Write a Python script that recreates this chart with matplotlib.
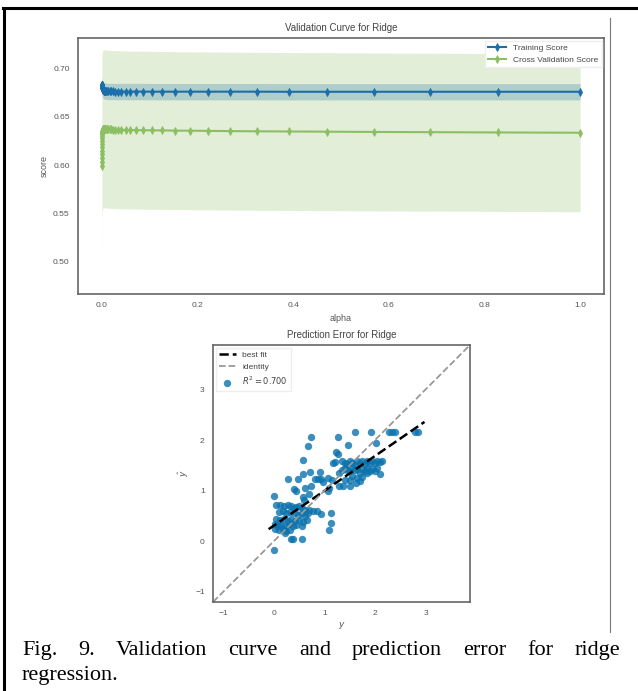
import matplotlib.pyplot as plt
from matplotlib.lines import Line2D
import numpy as np

plt.rcParams['font.family'] = ['Liberation Sans', 'DejaVu Sans']

# --- validation curve data (alpha grid, mean / std of scores) ---
alphas = [0.0001, 0.000121, 0.000146, 0.000176, 0.000212, 0.000256, 0.000309, 0.000373,
          0.00045, 0.000543, 0.000655, 0.000791, 0.000954, 0.001151, 0.001389, 0.001677,
          0.002024, 0.002442, 0.002947, 0.003556, 0.004292, 0.005179, 0.006251, 0.007543,
          0.009103, 0.010985, 0.013257, 0.015999, 0.019307, 0.0233, 0.028118, 0.033932,
          0.040949, 0.049417, 0.059636, 0.071969, 0.086851, 0.104811, 0.126486, 0.152642,
          0.184207, 0.2223, 0.26827, 0.323746, 0.390694, 0.471487, 0.568987, 0.686649,
          0.828643, 1.0]
train_mean = [0.6835, 0.6834, 0.6833, 0.6832, 0.6830, 0.6828, 0.6826, 0.6823, 0.6820, 0.6816,
              0.6812, 0.6808, 0.6803, 0.6798, 0.6793, 0.6789, 0.6785, 0.6781, 0.6778, 0.6775,
              0.6773, 0.6771, 0.6769, 0.6768, 0.6767, 0.6766, 0.6765, 0.6765, 0.6765, 0.6765,
              0.6764, 0.6764, 0.6764, 0.6764, 0.6764, 0.6764, 0.6764, 0.6763, 0.6763, 0.6763,
              0.6763, 0.6763, 0.6763, 0.6763, 0.6762, 0.6762, 0.6762, 0.6762, 0.6762, 0.6762]
train_std = [0.0092, 0.0092, 0.0091, 0.0091, 0.0091, 0.0090, 0.0090, 0.0090, 0.0089, 0.0089,
             0.0089, 0.0088, 0.0088, 0.0088, 0.0087, 0.0087, 0.0087, 0.0086, 0.0086, 0.0086,
             0.0086, 0.0085, 0.0085, 0.0085, 0.0085, 0.0085, 0.0085, 0.0085, 0.0085, 0.0085,
             0.0085, 0.0085, 0.0085, 0.0085, 0.0085, 0.0085, 0.0085, 0.0085, 0.0085, 0.0085,
             0.0085, 0.0085, 0.0085, 0.0085, 0.0085, 0.0085, 0.0085, 0.0085, 0.0085, 0.0085]
cv_mean = [0.599, 0.603, 0.607, 0.611, 0.615, 0.619, 0.622, 0.625, 0.628, 0.630,
           0.632, 0.633, 0.634, 0.635, 0.636, 0.6365, 0.637, 0.6372, 0.6374, 0.6375,
           0.6376, 0.6376, 0.6376, 0.6375, 0.6374, 0.6373, 0.6372, 0.6371, 0.6370, 0.6369,
           0.6368, 0.6367, 0.6366, 0.6365, 0.6364, 0.6363, 0.6362, 0.6361, 0.6360, 0.6358,
           0.6357, 0.6355, 0.6353, 0.6351, 0.6349, 0.6347, 0.6344, 0.6342, 0.6339, 0.6336]
cv_std = [0.121, 0.115, 0.110, 0.105, 0.100, 0.096, 0.092, 0.089, 0.087, 0.085,
          0.084, 0.083, 0.0828, 0.0826, 0.0824, 0.0823, 0.0822, 0.0822, 0.0821, 0.0821,
          0.0821, 0.0821, 0.0821, 0.0821, 0.0821, 0.0821, 0.0821, 0.0821, 0.0821, 0.0821,
          0.0821, 0.0821, 0.0821, 0.0821, 0.0821, 0.0821, 0.0821, 0.0821, 0.0821, 0.0821,
          0.0821, 0.0821, 0.0821, 0.0821, 0.0821, 0.0821, 0.0821, 0.0821, 0.0821, 0.0821]

# --- prediction error data (true y, predicted y) ---
y_true = [0.73, 0.68, 1.27, 1.61, 1.92, 2.27, 2.33, 2.40, 2.80, 2.85, 2.02, 1.46, 0.58,
          1.24, 1.27, 1.17, 1.21, 1.35, 1.40, 1.45, 1.50, 1.55, 1.60, 1.65, 1.70, 1.75,
          1.80, 1.85, 1.90, 1.95, 2.00, 2.05, 2.10, 2.15, 1.40, 1.45, 1.50, 1.55, 1.60,
          1.65, 1.70, 1.75, 1.80, 1.85, 1.90, 1.95, 2.00, 2.05, 2.10, 1.35, 1.30, 1.55,
          1.65, 1.75, 1.85, 1.40, 1.50, 1.70, 1.30, 1.37, 1.50, 1.63, 1.07, 1.10, 1.15,
          0.97, 1.07, 0.94, 0.87, 0.81, 0.91, 0.74, 0.71, 0.58, 0.48, 0.28, 0.41, 0.45,
          0.62, 0.58, 0.60, 0.00, 0.70,
          0.05, 0.12, 0.20, 0.28, 0.35, 0.40, 0.45, 0.50, 0.55, 0.62, 0.70, 0.78, 0.85,
          0.10, 0.18, 0.25, 0.33, 0.42, 0.48, 0.55, 0.62, 0.68, 0.94, 1.14, 0.05, 0.12,
          0.20, 0.28, 0.35, 0.42, 0.50, 0.58, 0.65, 0.02, 0.08, 0.15, 0.22, 0.30, 0.38,
          0.45, 0.55, 0.02, 0.10, 0.18, 0.25, 0.33, 1.14, 1.10, 0.22, 0.35, 0.39, 0.55, 0.00]
y_pred = [2.07, 1.88, 2.07, 2.17, 2.17, 2.17, 2.17, 2.17, 2.17, 2.17, 1.95, 1.91, 1.60,
          1.77, 1.72, 1.54, 1.57, 1.58, 1.55, 1.52, 1.58, 1.55, 1.50, 1.58, 1.55, 1.58,
          1.52, 1.58, 1.55, 1.58, 1.55, 1.58, 1.57, 1.58, 1.45, 1.40, 1.38, 1.45, 1.40,
          1.42, 1.35, 1.42, 1.38, 1.45, 1.38, 1.42, 1.38, 1.45, 1.33, 1.40, 1.35, 1.30,
          1.25, 1.28, 1.35, 1.22, 1.22, 1.20, 1.10, 1.10, 1.10, 1.15, 1.00, 1.05, 1.22,
          1.17, 1.25, 1.24, 1.24, 1.24, 1.36, 1.10, 1.36, 1.33, 1.24, 1.24, 1.03, 1.00,
          1.05, 0.87, 0.81, 0.89, 0.93,
          0.72, 0.72, 0.70, 0.72, 0.70, 0.66, 0.68, 0.70, 0.66, 0.62, 0.62, 0.60, 0.60,
          0.58, 0.60, 0.55, 0.58, 0.55, 0.52, 0.55, 0.50, 0.55, 0.54, 0.56, 0.45, 0.42,
          0.45, 0.40, 0.45, 0.40, 0.42, 0.38, 0.42, 0.35, 0.30, 0.33, 0.30, 0.35, 0.30,
          0.33, 0.30, 0.25, 0.22, 0.25, 0.20, 0.22, 0.36, 0.22, 0.16, 0.05, 0.05, 0.05, -0.17]
fit_x = [-0.10, 2.98]
fit_y = [0.24, 2.36]
lims = [-1.2, 3.88]

blue = '#1a6faa'
green = '#8cbf63'
tick_col = '#555555'
spine_col = '#666666'


def style(ax):
    for s in ax.spines.values():
        s.set_color(spine_col)
        s.set_linewidth(1.2)
    ax.tick_params(length=0, pad=6, labelsize=6, labelcolor=tick_col)


fig = plt.figure(figsize=(6.38, 6.91), dpi=100)

# top: validation curve
ax1 = fig.add_axes([0.1223, 0.5745, 0.8245, 0.3705])
cv_lo = np.array(cv_mean) - np.array(cv_std)
cv_hi = np.array(cv_mean) + np.array(cv_std)
tr_lo = np.array(train_mean) - np.array(train_std)
tr_hi = np.array(train_mean) + np.array(train_std)
ax1.fill_between(alphas, cv_lo, cv_hi, color=green, alpha=0.25, lw=0)
ax1.fill_between(alphas, tr_lo, tr_hi, color=blue, alpha=0.25, lw=0)
ax1.plot(alphas, train_mean, marker='d', ms=3.6, mew=0.6, lw=1.5, color=blue, label='Training Score')
ax1.plot(alphas, cv_mean, marker='d', ms=3.6, mew=0.6, lw=1.5, color=green, label='Cross Validation Score')
ax1.set_title('Validation Curve for Ridge', fontsize=7, color='#444444', pad=5)
ax1.set_xlabel('alpha', fontsize=6.5, color=tick_col, labelpad=3)
ax1.set_ylabel('score', fontsize=6.5, color=tick_col, labelpad=3)
ax1.set_yticks([0.50, 0.55, 0.60, 0.65, 0.70])
style(ax1)
leg = ax1.legend(loc='upper right', fontsize=6, frameon=True, framealpha=1,
                 edgecolor='#eeeeee', fancybox=False, borderaxespad=0.3, handlelength=2.2)
for t in leg.get_texts():
    t.set_color('#444444')

# bottom: prediction error
ax2 = fig.add_axes([0.3339, 0.1288, 0.4028, 0.3719])
ax2.plot(fit_x, fit_y, ls='--', lw=1.8, color='black', label='best fit')
ax2.plot(lims, lims, ls='--', lw=1.3, color='#999999', label='identity')
ax2.scatter(y_true, y_pred, s=28, color='#0a72ad', alpha=0.8, lw=0, label='$R^2 = 0.700$')
ax2.set_xlim(lims)
ax2.set_ylim(lims)
ax2.set_xticks([-1, 0, 1, 2, 3])
ax2.set_yticks([-1, 0, 1, 2, 3])
ax2.set_title('Prediction Error for Ridge', fontsize=7, color='#444444', pad=5)
ax2.set_xlabel('$y$', fontsize=6.5, color=tick_col, labelpad=2)
ax2.set_ylabel(r'$\hat{y}$', fontsize=6.5, color=tick_col, labelpad=3)
style(ax2)
leg2 = ax2.legend(loc='upper left', fontsize=6, frameon=True, framealpha=1,
                  edgecolor='#eeeeee', fancybox=False, borderaxespad=0.3)
for t in leg2.get_texts():
    t.set_color('#444444')

# page frame of the screenshot
W, H = 638.0, 691.0
fig.add_artist(Line2D([3 / W, 1.0], [1 - 8 / H, 1 - 8 / H], color='black', lw=2.2))
fig.add_artist(Line2D([4 / W, 4 / W], [0.0, 1 - 8 / H], color='black', lw=2.2))
fig.add_artist(Line2D([610 / W, 610 / W], [1 - 632 / H, 1 - 18 / H], color='#777777', lw=0.8))

# caption, justified first line
caption1 = 'Fig. 9. Validation curve and prediction error for ridge'.split(' ')
caption2 = 'regression.'
cap_font = dict(family='Liberation Serif', fontsize=16, color='black')
renderer = fig.canvas.get_renderer()
texts = [fig.text(0, 1 - 655 / H, w, va='baseline', **cap_font) for w in caption1]
widths = [t.get_window_extent(renderer).width for t in texts]
x0, x1 = 22.0, 620.0
gap = (x1 - x0 - sum(widths)) / (len(texts) - 1)
x = x0
for t, w in zip(texts, widths):
    t.set_x(x / W)
    x += w + gap
fig.text(x0 / W, 1 - 680 / H, caption2, va='baseline', **cap_font)

fig.savefig('out.png', dpi=100)
